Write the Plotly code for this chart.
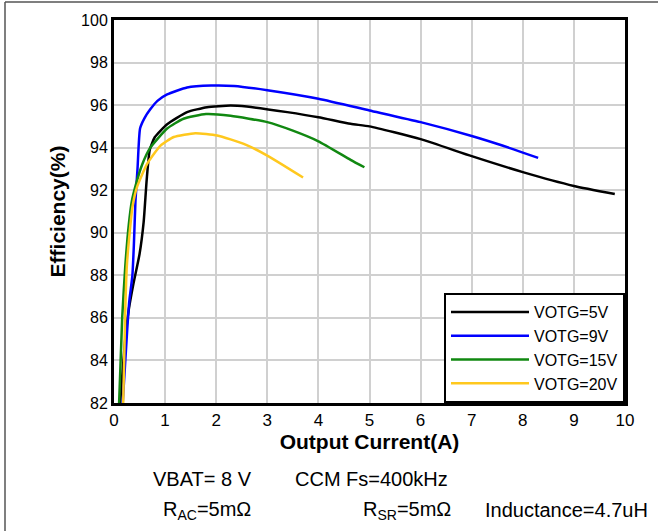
import plotly.graph_objects as go

# Data
x_5v = [0.12, 0.22, 0.29, 0.38, 0.50, 0.58, 0.64, 0.70, 0.80, 1.04, 1.43, 1.82, 2.28, 2.60, 3.39, 4.00, 4.63, 5.00, 6.00, 7.00, 8.00, 9.00, 9.80]
y_5v = [82.0, 85.0, 86.4, 87.6, 89.0, 90.5, 92.5, 93.9, 94.5, 95.1, 95.67, 95.9, 95.98, 95.93, 95.67, 95.43, 95.12, 95.0, 94.4, 93.6, 92.85, 92.2, 91.82]

x_9v = [0.17, 0.26, 0.30, 0.36, 0.39, 0.42, 0.46, 0.51, 0.60, 0.71, 0.85, 1.04, 1.43, 1.90, 2.35, 3.00, 4.00, 5.00, 6.00, 7.00, 7.60, 8.30]
y_9v = [82.0, 85.5, 86.8, 88.0, 89.5, 91.5, 93.0, 94.9, 95.4, 95.8, 96.2, 96.5, 96.83, 96.92, 96.9, 96.7, 96.3, 95.75, 95.2, 94.55, 94.1, 93.52]

x_15v = [0.10, 0.16, 0.22, 0.29, 0.35, 0.42, 0.55, 0.71, 1.04, 1.36, 1.80, 2.28, 3.00, 3.50, 4.00, 4.63, 4.90]
y_15v = [82.0, 86.0, 88.4, 90.4, 91.5, 92.2, 93.2, 94.0, 94.9, 95.36, 95.58, 95.5, 95.2, 94.8, 94.3, 93.43, 93.08]

x_20v = [0.18, 0.22, 0.25, 0.31, 0.36, 0.45, 0.65, 0.91, 1.17, 1.59, 2.02, 2.54, 3.00, 3.70]
y_20v = [82.0, 86.3, 88.4, 90.1, 91.2, 92.15, 93.25, 94.1, 94.5, 94.68, 94.57, 94.18, 93.63, 92.6]

series_names = ["VOTG=5V", "VOTG=9V", "VOTG=15V", "VOTG=20V"]
series_x = [x_5v, x_9v, x_15v, x_20v]
series_y = [y_5v, y_9v, y_15v, y_20v]
colors = ["#000000", "#0000FF", "#118811", "#FFC81E"]

x_ticks = list(range(0, 11))
y_ticks = list(range(82, 101, 2))

FONT = "Liberation Sans, Arial, sans-serif"

L, R, T, B = 114, 33, 20, 128
W, H = 658, 531
PW, PH = W - L - R, H - T - B


def px(xp):
    return (xp - L) / PW


def py(yp):
    return (H - B - yp) / PH


fig = go.Figure()
for name, xs, ys, c in zip(series_names, series_x, series_y, colors):
    fig.add_trace(go.Scatter(x=xs, y=ys, mode="lines", name=name,
                             line=dict(color=c, width=2.5, shape="spline", smoothing=0.5)))

fig.update_layout(
    width=W, height=H,
    margin=dict(l=L, r=R, t=T, b=B, autoexpand=False),
    paper_bgcolor="white", plot_bgcolor="white",
    font=dict(family=FONT, size=16, color="black"),
    showlegend=True,
    legend=dict(x=1, y=0, xanchor="right", yanchor="bottom",
                bordercolor="black", borderwidth=2, bgcolor="white",
                font=dict(size=16), tracegroupgap=0, itemwidth=78),
    xaxis=dict(range=[0, 10], tickvals=x_ticks, showgrid=True, gridcolor="#d0d0d0", gridwidth=2,
               showline=True, linecolor="black", linewidth=3, mirror=True, zeroline=False,
               automargin=False,
               title=dict(text="<b>Output Current(A)</b>", font=dict(size=21), standoff=0),
               tickfont=dict(size=17)),
    yaxis=dict(range=[82, 100], tickvals=y_ticks, showgrid=True, gridcolor="#d0d0d0", gridwidth=2,
               showline=True, linecolor="black", linewidth=3, mirror=True, zeroline=False,
               automargin=False,
               title=dict(text="<b>Efficiency(%)</b>", font=dict(size=21), standoff=10),
               tickfont=dict(size=16)),
)

annots = [
    ("VBAT= 8 V", 151, 479),
    ("CCM Fs=400kHz", 293, 479),
    ("R<sub>AC</sub>=5mΩ", 161, 510),
    ("R<sub>SR</sub>=5mΩ", 361, 510),
    ("Inductance=4.7uH", 483, 510),
]
for text, xp, yp in annots:
    fig.add_annotation(text=text, xref="paper", yref="paper",
                       x=px(xp), y=py(yp), xanchor="left", yanchor="middle",
                       showarrow=False, font=dict(size=20, family=FONT, color="black"))

# outer frame lines (top and left)
fig.add_shape(type="line", xref="paper", yref="paper", x0=px(5), x1=px(658),
              y0=py(2), y1=py(2), line=dict(color="#555555", width=1.5))
fig.add_shape(type="line", xref="paper", yref="paper", x0=px(5), x1=px(5),
              y0=py(2), y1=py(531), line=dict(color="#555555", width=1.5))

fig.write_html("out.html", config={"displayModeBar": False},
               post_script="document.body.style.margin='0px';document.body.style.overflow='hidden';"
                           "document.documentElement.style.overflow='hidden';")
